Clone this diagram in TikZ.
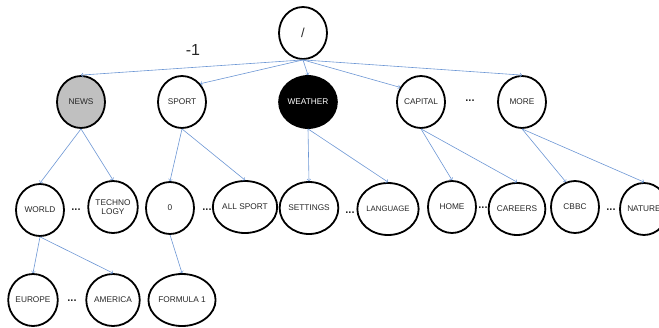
\documentclass[tikz,border=0pt]{standalone}
\usepackage{fontspec}
\setmainfont{Liberation Sans}
\usepackage{tikz}
\usetikzlibrary{shapes.geometric,arrows}
\usepackage{xcolor}
\definecolor{linkblue}{RGB}{108,150,212}
\definecolor{visitgray}{RGB}{192,192,192}

\begin{document}
\begin{tikzpicture}[x=1pt,y=-1pt,
	  every node/.style={align=center,text=black!85},
	  page/.style={ellipse,draw=black,line width=1.8pt,minimum width=48pt,minimum height=52pt,inner sep=0pt,font=\fontsize{8.3}{9.5}\selectfont},
	  visited/.style={page,fill=visitgray},
	  current/.style={page,fill=black,text=white},
	  gap/.style={font=\bfseries\fontsize{11}{11}\selectfont},
	  to/.style={->,>=to,draw=linkblue,line width=0.6pt}]

	  \useasboundingbox (0,0) rectangle (659,327);

	  % root and first level (positions in pixels of the sitemap)
	  \node[page,font=\fontsize{13}{13}\selectfont] (root) at (303,33) {/};
	  \node[font=\fontsize{16}{16}\selectfont] (depth) at (193,50) {-1};
	  \node[visited] (news) at (81,102) {NEWS};
	  \node[page] (sport) at (182,102) {SPORT};
	  \node[current] (weather) at (308,102) {WEATHER};
	  \node[page] (capital) at (421,102) {CAPITAL};
	  \node[gap] (gapA) at (470,101) {...};
	  \node[page] (more) at (522,102) {MORE};

	  % second level
	  \node[page] (world) at (40,210) {WORLD};
	  \node[gap] (gapB) at (76,210) {...};
	  \node[page] (techno) at (113,207) {TECHNO\\LOGY};
	  \node[page] (zero) at (170,208) {0};
	  \node[gap] (gapC) at (207,210) {...};
	  \node[page] (allsport) at (245,207) {ALL SPORT};
	  \node[page] (settings) at (309,208) {SETTINGS};
	  \node[gap] (gapD) at (350,213) {...};
	  \node[page,font=\fontsize{7.8}{9}\selectfont] (language) at (388,209) {LANGUAGE};
	  \node[page] (home) at (452,207) {HOME};
	  \node[gap] (gapE) at (483,208) {...};
	  \node[page] (careers) at (517,209) {CAREERS};
	  \node[page] (cbbc) at (575,207) {CBBC};
	  \node[gap] (gapF) at (611,210) {...};
	  \node[page] (nature) at (644,209) {NATURE};

	  % third level
	  \node[page] (europe) at (33,300) {EUROPE};
	  \node[gap] (gapG) at (72,301) {...};
	  \node[page] (america) at (113,300) {AMERICA};
	  \node[page] (formula) at (182,300) {FORMULA 1};

	  % links
	  \draw[to] (root.south) -- (news.north);
	  \draw[to] (root.south) -- (sport.45);
	  \draw[to] (root.south) -- (weather.north);
	  \draw[to] (root.south) -- (capital.145);
	  \draw[to] (root.south) -- (more.north);
	  \draw[to] (news.south) -- (world.north);
	  \draw[to] (news.south) -- (techno.north);
	  \draw[to] (sport.south) -- (zero.north);
	  \draw[to] (sport.south) -- (allsport.north);
	  \draw[to] (weather.south) -- (settings.north);
	  \draw[to] (weather.south) -- (language.north);
	  \draw[to] (capital.south) -- (home.north);
	  \draw[to] (capital.south) -- (careers.north);
	  \draw[to] (more.south) -- (cbbc.110);
	  \draw[to] (more.south) -- (nature.north);
	  \draw[to] (world.south) -- (europe.north);
	  \draw[to] (world.south) -- (america.north);
	  \draw[to] (zero.south) -- (formula.north);

\end{tikzpicture}
\end{document}
